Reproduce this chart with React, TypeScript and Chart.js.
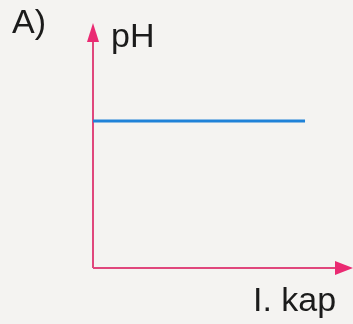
import React, { useEffect, useRef } from "react";
import { Chart, registerables } from "chart.js";

Chart.register(...registerables);

const panelLabel = "A)";
const yAxisLabel = "pH";
const xAxisLabel = "I. kap";
const volumes = [0, 8.25];
const phValues = [6, 6];
const xMax = 10;
const yMax = 10;

const AXIS_COLOR = "#e0467c";
const ARROW_COLOR = "#ea2a72";
const LINE_COLOR = "#1f82d8";
const TEXT_COLOR = "#1b1b1b";
const FONT = "34px 'Liberation Sans', Arial, sans-serif";

const axesPlugin = {
  id: "axesArrows",
  beforeDatasetsDraw(chart: any) {
    const { ctx, chartArea } = chart;
    const x0 = chart.scales.x.getPixelForValue(0);
    const y0 = chart.scales.y.getPixelForValue(0);
    ctx.save();
    ctx.strokeStyle = AXIS_COLOR;
    ctx.lineWidth = 2;
    ctx.beginPath();
    ctx.moveTo(x0, y0);
    ctx.lineTo(x0, chartArea.top + 10);
    ctx.moveTo(x0, y0);
    ctx.lineTo(chartArea.right - 10, y0);
    ctx.stroke();
    ctx.fillStyle = ARROW_COLOR;
    // y arrow
    ctx.beginPath();
    ctx.moveTo(x0, chartArea.top);
    ctx.lineTo(x0 - 6, chartArea.top + 19);
    ctx.lineTo(x0 + 6, chartArea.top + 19);
    ctx.closePath();
    ctx.fill();
    // x arrow
    ctx.beginPath();
    ctx.moveTo(chartArea.right + 3, y0);
    ctx.lineTo(chartArea.right - 15, y0 - 7);
    ctx.lineTo(chartArea.right - 15, y0 + 7);
    ctx.closePath();
    ctx.fill();
    ctx.restore();
  },
  afterDraw(chart: any) {
    const { ctx } = chart;
    ctx.save();
    ctx.fillStyle = TEXT_COLOR;
    ctx.font = FONT;
    ctx.textBaseline = "alphabetic";
    ctx.textAlign = "left";
    ctx.fillText(panelLabel, 12, 33);
    ctx.fillText(yAxisLabel, 111, 47);
    ctx.fillText(xAxisLabel, 253, 311);
    ctx.restore();
  },
};

export default function App() {
  const ref = useRef<HTMLCanvasElement>(null);
  useEffect(() => {
    document.body.style.margin = "0";
    const chart = new Chart(ref.current!, {
      type: "line",
      data: {
        datasets: [
          {
            data: volumes.map((v, i) => ({ x: v, y: phValues[i] })),
            borderColor: LINE_COLOR,
            borderWidth: 3,
            pointRadius: 0,
            fill: false,
          },
        ],
      },
      options: {
        animation: false,
        responsive: false,
        maintainAspectRatio: false,
        layout: { padding: { left: 93, top: 23, right: 3, bottom: 56 } },
        plugins: { legend: { display: false }, tooltip: { enabled: false } },
        scales: {
          x: { type: "linear", min: 0, max: xMax, display: false },
          y: { type: "linear", min: 0, max: yMax, display: false },
        },
      },
      plugins: [axesPlugin],
    });
    return () => chart.destroy();
  }, []);
  return (
    <div style={{ position: "absolute", left: 0, top: 0, width: 353, height: 324, background: "#f4f3f1" }}>
      <canvas ref={ref} width={353} height={324} style={{ display: "block" }} />
    </div>
  );
}
